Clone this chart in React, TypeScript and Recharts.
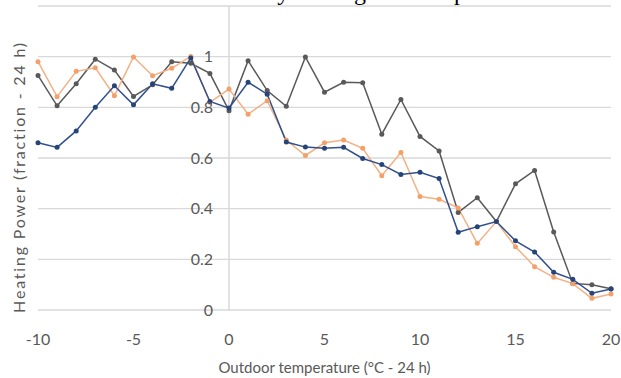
import React from 'react';
import { LineChart, Line, XAxis, YAxis, CartesianGrid, ReferenceLine } from 'recharts';

const temperatures = [-10, -9, -8, -7, -6, -5, -4, -3, -2, -1, 0, 1, 2, 3, 4, 5, 6, 7, 8, 9, 10, 11, 12, 13, 14, 15, 16, 17, 18, 19, 20];

const grayValues = [0.926, 0.806, 0.893, 0.99, 0.947, 0.843, 0.889, 0.98, 0.974, 0.934, 0.787, 0.984, 0.866, 0.804, 0.999, 0.86, 0.899, 0.897, 0.694, 0.831, 0.685, 0.628, 0.385, 0.443, 0.349, 0.498, 0.551, 0.308, 0.105, 0.1, 0.084];
const blueValues = [0.66, 0.642, 0.707, 0.8, 0.885, 0.81, 0.893, 0.875, 0.995, 0.823, 0.797, 0.899, 0.852, 0.663, 0.643, 0.638, 0.642, 0.598, 0.574, 0.535, 0.544, 0.519, 0.307, 0.329, 0.349, 0.273, 0.229, 0.149, 0.121, 0.066, 0.083];
const orangeValues = [0.98, 0.842, 0.942, 0.956, 0.846, 0.999, 0.925, 0.954, 1.001, 0.82, 0.872, 0.773, 0.826, 0.671, 0.61, 0.66, 0.671, 0.638, 0.53, 0.622, 0.448, 0.437, 0.403, 0.263, 0.349, 0.25, 0.171, 0.129, 0.104, 0.046, 0.063];

const xTicks = [-10, -5, 0, 5, 10, 15, 20];
const yTicks = [0, 0.2, 0.4, 0.6, 0.8, 1];

const data = temperatures.map((t, i) => ({
    t,
    gray: grayValues[i],
    blue: blueValues[i],
    orange: orangeValues[i],
}));

const FONT = 'Lato, "Open Sans", sans-serif';
const TEXT = '#595959';

// y labels sit just left of the x = 0 line, like the original
const YTick = ({ y, payload }: any) => (
    <text x={213} y={y} dy={5.5} textAnchor="end" fontSize={16} fill={TEXT} fontFamily={FONT}>
        {payload.value}
    </text>
);

const App: React.FC = () => (
    <div style={{ position: 'relative', width: 621, height: 378, overflow: 'hidden', background: '#fff' }}>
        <style>{'body{margin:0}'}</style>
        {/* title is cropped at the top edge in the source image */}
        <div
            style={{
                position: 'absolute',
                top: -21,
                left: 236,
                fontFamily: '"Liberation Serif", "Times New Roman", serif',
                fontSize: 24,
                lineHeight: '27px',
                whiteSpace: 'nowrap',
            }}
        >
            Daily heating demand profile
        </div>
        <LineChart width={621} height={378} data={data} margin={{ top: 6, right: 10, left: 0, bottom: 0 }}>
            <CartesianGrid vertical={false} stroke="#d9d9d9" strokeWidth={1.3} />
            <ReferenceLine x={0} stroke="#d9d9d9" strokeWidth={1.5} />
            <XAxis
                dataKey="t"
                type="number"
                domain={[-10, 20]}
                ticks={xTicks}
                axisLine={false}
                tickLine={false}
                height={68}
                tickMargin={18}
                tick={{ fontSize: 16, fill: TEXT, fontFamily: FONT }}
                label={{ value: 'Outdoor temperature (°C - 24 h)', position: 'insideBottom', offset: 5, fontSize: 15, fill: TEXT, fontFamily: FONT }}
            />
            <YAxis
                type="number"
                domain={[0, 1.2]}
                ticks={yTicks}
                axisLine={false}
                tickLine={false}
                width={38}
                tick={<YTick />}
                label={{
                    content: () => (
                        <text transform="translate(25,177) rotate(-90)" textAnchor="middle" fontSize={16} letterSpacing={1.8} fill={TEXT} fontFamily={FONT}>
                            Heating Power (fraction - 24 h)
                        </text>
                    ),
                }}
            />
            <Line dataKey="gray" stroke="#595959" strokeWidth={1.5} dot={{ r: 2.5, fill: '#595959', strokeWidth: 0 }} isAnimationActive={false} />
            <Line dataKey="orange" stroke="#f4b183" strokeWidth={1.5} dot={{ r: 2.5, fill: '#f4a06a', strokeWidth: 0 }} isAnimationActive={false} />
            <Line dataKey="blue" stroke="#2f4f8f" strokeWidth={1.5} dot={{ r: 2.5, fill: '#264478', strokeWidth: 0 }} isAnimationActive={false} />
        </LineChart>
    </div>
);

export default App;
